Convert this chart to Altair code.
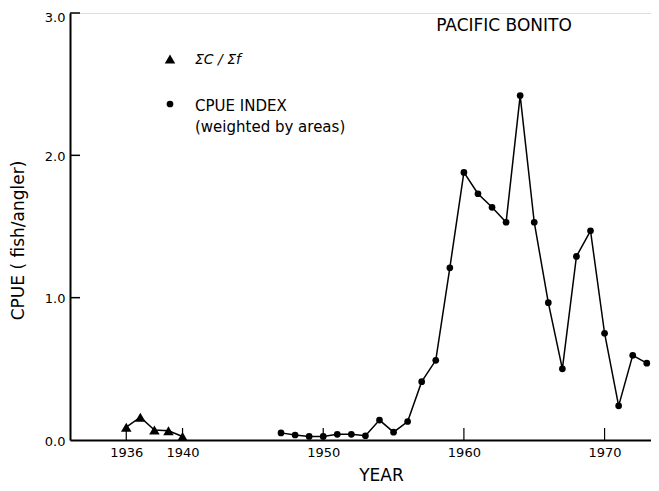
import altair as alt
import pandas as pd

# Sum C / Sum f series (triangles)
tri_years = [1936, 1937, 1938, 1939, 1940]
tri_vals = [0.09, 0.16, 0.07, 0.065, 0.025]

# CPUE index (weighted by areas) series (circles)
cir_years = [1947, 1948, 1949, 1950, 1951, 1952, 1953, 1954, 1955, 1956,
             1957, 1958, 1959, 1960, 1961, 1962, 1963, 1964, 1965, 1966,
             1967, 1968, 1969, 1970, 1971, 1972, 1973]
cir_vals = [0.05, 0.035, 0.025, 0.025, 0.04, 0.04, 0.03, 0.14, 0.055, 0.13,
            0.41, 0.56, 1.21, 1.88, 1.73, 1.635, 1.53, 2.42, 1.53, 0.965,
            0.50, 1.29, 1.47, 0.75, 0.24, 0.595, 0.54]

x_ticks = [1936, 1940, 1950, 1960, 1970]
y_ticks = [0.0, 1.0, 2.0, 3.0]
y_tick_marks = [1.0, 2.0, 3.0]

tri = pd.DataFrame({"year": tri_years, "cpue": tri_vals})
cir = pd.DataFrame({"year": cir_years, "cpue": cir_vals})
xt = pd.DataFrame({"year": x_ticks})
yt = pd.DataFrame({"cpue": y_tick_marks})

FONT = "DejaVu Sans"
W, H = 581, 427

xscale = alt.Scale(domain=[1932, 1973.3], nice=False, zero=False)
yscale = alt.Scale(domain=[0, 3], nice=False)

xaxis = alt.Axis(values=x_ticks, format="d", ticks=False, grid=False,
                 domainColor="black", domainWidth=2, labelFont=FONT,
                 labelFontSize=13, labelColor="black", labelPadding=6,
                 title="YEAR", titleFont=FONT, titleFontSize=17,
                 titleFontWeight="normal", titleColor="black",
                 titleX=381 - 70, titleY=35, titleBaseline="middle",
                 titleAnchor="middle")
yaxis = alt.Axis(values=y_ticks, format=".1f", ticks=False, grid=False,
                 domainColor="black", domainWidth=2, labelFont=FONT,
                 labelFontSize=13, labelColor="black", labelPadding=5,
                 labelOffset=alt.expr("datum.value == 3 ? 4 : 1"),
                 title="CPUE ( fish/angler)", titleFont=FONT, titleFontSize=17,
                 titleFontWeight="normal", titleColor="black",
                 titleX=-52, titleY=227, titleBaseline="middle",
                 titleAnchor="middle")

base_x = alt.X("year:Q", scale=xscale, axis=xaxis)
base_y = alt.Y("cpue:Q", scale=yscale, axis=yaxis)

cir_line = alt.Chart(cir).mark_line(color="black", strokeWidth=1.5).encode(x=base_x, y=base_y)
cir_pts = alt.Chart(cir).mark_point(shape="circle", filled=True, color="black", size=45, opacity=1).encode(
    x=alt.X("year:Q", scale=xscale), y=alt.Y("cpue:Q", scale=yscale))
tri_line = alt.Chart(tri).mark_line(color="black", strokeWidth=1.5).encode(
    x=alt.X("year:Q", scale=xscale), y=alt.Y("cpue:Q", scale=yscale))
tri_pts = alt.Chart(tri).mark_point(shape="triangle-up", filled=True, color="black", size=110, opacity=1).encode(
    x=alt.X("year:Q", scale=xscale), y=alt.Y("cpue:Q", scale=yscale))

x_tick_rules = alt.Chart(xt).mark_rule(color="black", strokeWidth=1.2).encode(
    x=alt.X("year:Q", scale=xscale), y=alt.value(H - 12), y2=alt.value(H))
y_tick_rules = alt.Chart(yt).mark_rule(color="black", strokeWidth=1.5).encode(
    y=alt.Y("cpue:Q", scale=yscale), x=alt.value(0), x2=alt.value(10))

# Title and legend
legend_df = pd.DataFrame({"dummy": [0]})
title_txt = alt.Chart(legend_df).mark_text(text="PACIFIC BONITO", font=FONT, fontSize=17,
                                           align="center", baseline="middle", color="black").encode(
    x=alt.value(434), y=alt.value(13))
leg_tri = alt.Chart(legend_df).mark_point(shape="triangle-up", filled=True, color="black", size=110, opacity=1).encode(
    x=alt.value(100), y=alt.value(46))
leg_cir = alt.Chart(legend_df).mark_point(shape="circle", filled=True, color="black", size=45, opacity=1).encode(
    x=alt.value(100), y=alt.value(91))
leg_t1 = alt.Chart(legend_df).mark_text(text="ΣC / Σf", font=FONT, fontSize=14, fontStyle="italic",
                                        align="left", baseline="middle", color="black").encode(
    x=alt.value(125), y=alt.value(47))
leg_t2 = alt.Chart(legend_df).mark_text(text="CPUE INDEX", font=FONT, fontSize=15,
                                        align="left", baseline="middle", color="black").encode(
    x=alt.value(125), y=alt.value(93))
leg_t3 = alt.Chart(legend_df).mark_text(text="(weighted by areas)", font=FONT, fontSize=15,
                                        align="left", baseline="middle", color="black").encode(
    x=alt.value(125), y=alt.value(114))

chart = alt.layer(
    cir_line, cir_pts, tri_line, tri_pts, x_tick_rules, y_tick_rules,
    title_txt, leg_tri, leg_cir, leg_t1, leg_t2, leg_t3
).properties(
    width=W, height=H,
    autosize=alt.AutoSizeParams(type="none"),
    padding={"left": 62, "top": 5, "right": 0, "bottom": 43},
).configure_view(stroke=None).configure(background="white")

chart.save("out.html", embed_options={"renderer": "svg", "actions": False})
